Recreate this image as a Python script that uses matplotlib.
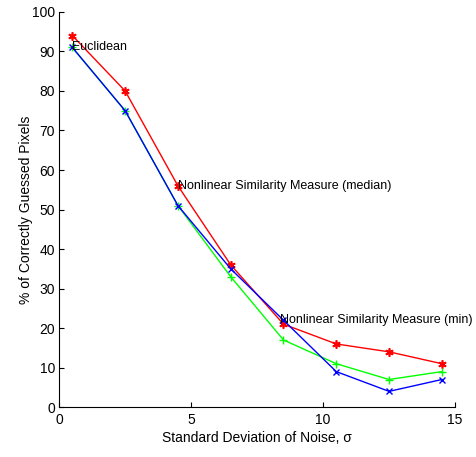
import matplotlib
matplotlib.use("Agg")
import matplotlib.pyplot as plt

sigma = [0.5, 2.5, 4.5, 6.5, 8.5, 10.5, 12.5, 14.5]
median_vals = [94, 80, 56, 36, 21, 16, 14, 11]
green_vals = [91, 75, 51, 33, 17, 11, 7, 9]
blue_vals = [91, 75, 51, 35, 22, 9, 4, 7]

plt.rcParams['font.family'] = ['Liberation Sans', 'DejaVu Sans']

fig = plt.figure(figsize=(4.77, 4.57), dpi=100)
ax = fig.add_axes([0.124, 0.109, 0.830, 0.865])

ax.plot(sigma, median_vals, color='#ff0000', marker=(6, 2, 0), markersize=6, mew=1.2, lw=1)
ax.plot(sigma, green_vals, color='#00ff00', marker='+', markersize=6, lw=1)
ax.plot(sigma, blue_vals, color='#0000ff', marker='x', markersize=4, lw=1)

tf = 9
ax.text(sigma[0], 91, 'Euclidean', fontsize=tf, va='center', ha='left')
ax.text(sigma[2], 56, 'Nonlinear Similarity Measure (median)', fontsize=tf, va='center', ha='left')
ax.text(sigma[4] - 0.15, 22, 'Nonlinear Similarity Measure (min)', fontsize=tf, va='center', ha='left')

ax.set_xlim(0, 15)
ax.set_ylim(0, 100)
ax.set_xticks([0, 5, 10, 15])
ax.set_yticks(range(0, 101, 10))
ax.spines['top'].set_visible(False)
ax.spines['right'].set_visible(False)
ax.tick_params(direction='in', labelsize=10, pad=4)
ax.tick_params(axis='y', pad=3)
ax.set_xlabel('Standard Deviation of Noise, σ', fontsize=10, labelpad=3)
ax.set_ylabel('% of Correctly Guessed Pixels', fontsize=10, labelpad=-1)

fig.savefig('out.png', dpi=100)
